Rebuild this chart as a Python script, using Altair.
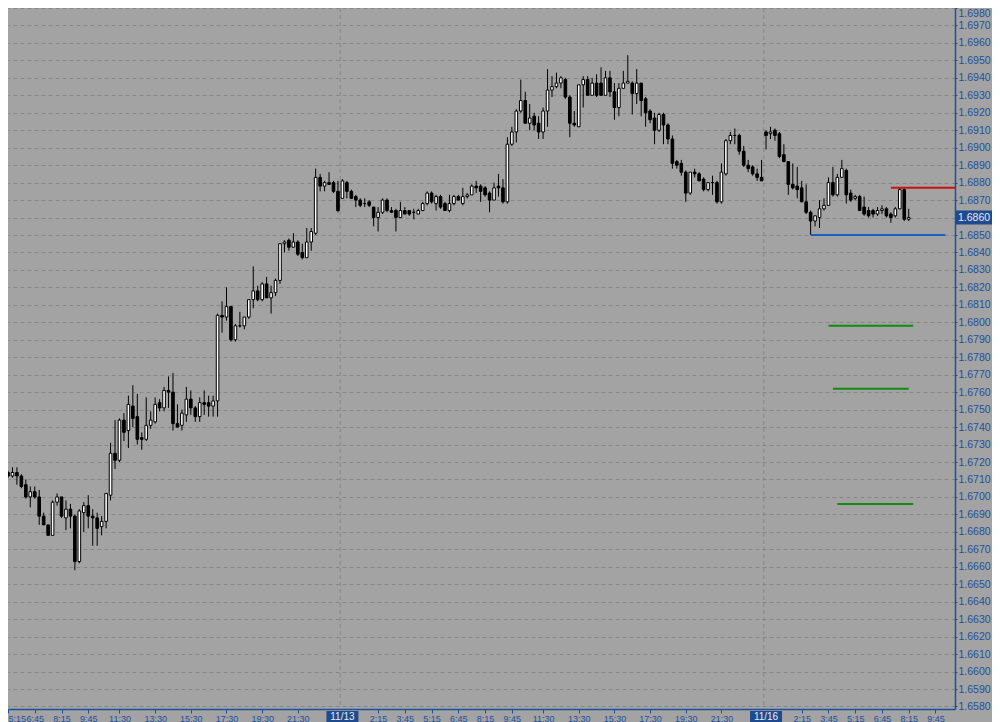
import altair as alt
import pandas as pd

# ---------------- data (15-minute candles) ----------------
OPEN = [
    1.6716, 1.6714, 1.6712, 1.6714, 1.6712, 1.6707, 1.6700, 1.6703, 1.6700, 1.6689,
    1.6684, 1.6678, 1.6697, 1.6700, 1.6688, 1.6693, 1.6689, 1.6663, 1.6691, 1.6695,
    1.6689, 1.6688, 1.6683, 1.6686, 1.6701, 1.6725, 1.6721, 1.6744, 1.6738, 1.6752,
    1.6746, 1.6734, 1.6733, 1.6741, 1.6743, 1.6754, 1.6751, 1.6761, 1.6760, 1.6742,
    1.6741, 1.6747, 1.6756, 1.6751, 1.6746, 1.6754, 1.6754, 1.6752, 1.6755, 1.6804,
    1.6803, 1.6809, 1.6790, 1.6798, 1.6798, 1.6803, 1.6813, 1.6818, 1.6813, 1.6822,
    1.6814, 1.6817, 1.6824, 1.6845, 1.6847, 1.6843, 1.6846, 1.6840, 1.6837, 1.6846,
    1.6851, 1.6883, 1.6878, 1.6880, 1.6880, 1.6875, 1.6871, 1.6880, 1.6875, 1.6872,
    1.6870, 1.6868, 1.6869, 1.6866, 1.6860, 1.6863, 1.6870, 1.6864, 1.6864, 1.6860,
    1.6864, 1.6864, 1.6863, 1.6862, 1.6864, 1.6868, 1.6874, 1.6868, 1.6872, 1.6868,
    1.6864, 1.6868, 1.6872, 1.6868, 1.6872, 1.6873, 1.6878, 1.6878, 1.6877, 1.6874,
    1.6870, 1.6878, 1.6877, 1.6869, 1.6902, 1.6909, 1.6921, 1.6927, 1.6914, 1.6918,
    1.6914, 1.6909, 1.6921, 1.6933, 1.6935, 1.6937, 1.6939, 1.6929, 1.6914, 1.6912,
    1.6936, 1.6939, 1.6930, 1.6937, 1.6937, 1.6930, 1.6940, 1.6932, 1.6923, 1.6934,
    1.6937, 1.6937, 1.6931, 1.6937, 1.6928, 1.6921, 1.6917, 1.6910, 1.6919, 1.6913,
    1.6905, 1.6892, 1.6891, 1.6886, 1.6874, 1.6886, 1.6885, 1.6882, 1.6876, 1.6880,
    1.6880, 1.6869, 1.6885, 1.6904, 1.6907, 1.6907, 1.6898, 1.6890, 1.6889, 1.6885,
    1.6883, 1.6909, 1.6908, 1.6910, 1.6908, 1.6896, 1.6892, 1.6879, 1.6878, 1.6877,
    1.6869, 1.6863, 1.6858, 1.6860, 1.6865, 1.6867, 1.6880, 1.6873, 1.6883, 1.6887,
    1.6874, 1.6871, 1.6872, 1.6866, 1.6864, 1.6864, 1.6862, 1.6864, 1.6865, 1.6862,
    1.6861, 1.6865, 1.6876, 1.6859,
]
HIGH = [
    1.6718, 1.6715, 1.6717, 1.6717, 1.6713, 1.6710, 1.6706, 1.6706, 1.6704, 1.6691,
    1.6684, 1.6698, 1.6702, 1.6700, 1.6698, 1.6696, 1.6690, 1.6693, 1.6697, 1.6701,
    1.6693, 1.6691, 1.6689, 1.6702, 1.6731, 1.6744, 1.6745, 1.6748, 1.6758, 1.6764,
    1.6759, 1.6737, 1.6757, 1.6749, 1.6757, 1.6756, 1.6763, 1.6769, 1.6771, 1.6753,
    1.6750, 1.6763, 1.6761, 1.6752, 1.6757, 1.6761, 1.6758, 1.6758, 1.6805, 1.6812,
    1.6820, 1.6809, 1.6799, 1.6806, 1.6803, 1.6813, 1.6832, 1.6821, 1.6823, 1.6826,
    1.6821, 1.6825, 1.6845, 1.6847, 1.6848, 1.6851, 1.6847, 1.6845, 1.6854, 1.6854,
    1.6888, 1.6885, 1.6881, 1.6886, 1.6881, 1.6881, 1.6882, 1.6881, 1.6876, 1.6873,
    1.6871, 1.6871, 1.6870, 1.6866, 1.6866, 1.6871, 1.6871, 1.6866, 1.6865, 1.6869,
    1.6866, 1.6864, 1.6865, 1.6865, 1.6869, 1.6875, 1.6875, 1.6873, 1.6873, 1.6869,
    1.6873, 1.6873, 1.6873, 1.6877, 1.6874, 1.6879, 1.6881, 1.6879, 1.6878, 1.6875,
    1.6880, 1.6885, 1.6882, 1.6906, 1.6912, 1.6922, 1.6939, 1.6932, 1.6925, 1.6920,
    1.6918, 1.6923, 1.6945, 1.6941, 1.6943, 1.6941, 1.6940, 1.6930, 1.6921, 1.6936,
    1.6941, 1.6941, 1.6940, 1.6942, 1.6946, 1.6944, 1.6944, 1.6937, 1.6937, 1.6944,
    1.6953, 1.6938, 1.6945, 1.6937, 1.6929, 1.6922, 1.6920, 1.6920, 1.6920, 1.6914,
    1.6907, 1.6893, 1.6893, 1.6887, 1.6886, 1.6888, 1.6886, 1.6883, 1.6880, 1.6884,
    1.6881, 1.6891, 1.6905, 1.6909, 1.6911, 1.6908, 1.6901, 1.6893, 1.6890, 1.6888,
    1.6893, 1.6910, 1.6912, 1.6911, 1.6909, 1.6902, 1.6892, 1.6891, 1.6889, 1.6881,
    1.6879, 1.6864, 1.6861, 1.6870, 1.6871, 1.6883, 1.6889, 1.6885, 1.6893, 1.6888,
    1.6876, 1.6873, 1.6873, 1.6872, 1.6866, 1.6865, 1.6866, 1.6867, 1.6866, 1.6863,
    1.6866, 1.6877, 1.6877, 1.6865,
]
LOW = [
    1.6711, 1.6711, 1.6711, 1.6707, 1.6705, 1.6699, 1.6694, 1.6699, 1.6684, 1.6684,
    1.6678, 1.6678, 1.6695, 1.6688, 1.6681, 1.6682, 1.6658, 1.6662, 1.6680, 1.6682,
    1.6672, 1.6672, 1.6678, 1.6682, 1.6698, 1.6716, 1.6720, 1.6732, 1.6728, 1.6740,
    1.6730, 1.6727, 1.6732, 1.6739, 1.6742, 1.6749, 1.6749, 1.6751, 1.6738, 1.6740,
    1.6738, 1.6743, 1.6747, 1.6743, 1.6743, 1.6747, 1.6746, 1.6746, 1.6746, 1.6794,
    1.6801, 1.6789, 1.6789, 1.6797, 1.6796, 1.6802, 1.6808, 1.6812, 1.6812, 1.6814,
    1.6805, 1.6815, 1.6822, 1.6840, 1.6841, 1.6843, 1.6838, 1.6836, 1.6837, 1.6841,
    1.6850, 1.6875, 1.6875, 1.6879, 1.6874, 1.6863, 1.6871, 1.6871, 1.6871, 1.6866,
    1.6866, 1.6866, 1.6866, 1.6855, 1.6852, 1.6862, 1.6863, 1.6863, 1.6852, 1.6860,
    1.6862, 1.6861, 1.6859, 1.6862, 1.6864, 1.6867, 1.6868, 1.6864, 1.6865, 1.6864,
    1.6863, 1.6867, 1.6870, 1.6867, 1.6871, 1.6873, 1.6874, 1.6869, 1.6872, 1.6863,
    1.6870, 1.6872, 1.6868, 1.6868, 1.6901, 1.6903, 1.6920, 1.6914, 1.6910, 1.6910,
    1.6905, 1.6905, 1.6912, 1.6929, 1.6934, 1.6934, 1.6928, 1.6906, 1.6912, 1.6912,
    1.6923, 1.6930, 1.6930, 1.6929, 1.6930, 1.6930, 1.6929, 1.6916, 1.6918, 1.6934,
    1.6937, 1.6919, 1.6925, 1.6918, 1.6912, 1.6914, 1.6902, 1.6909, 1.6902, 1.6902,
    1.6888, 1.6888, 1.6884, 1.6869, 1.6873, 1.6883, 1.6881, 1.6875, 1.6875, 1.6873,
    1.6868, 1.6868, 1.6884, 1.6902, 1.6902, 1.6896, 1.6889, 1.6886, 1.6884, 1.6881,
    1.6881, 1.6899, 1.6905, 1.6904, 1.6894, 1.6892, 1.6873, 1.6876, 1.6871, 1.6869,
    1.6862, 1.6850, 1.6855, 1.6854, 1.6864, 1.6867, 1.6872, 1.6872, 1.6883, 1.6868,
    1.6869, 1.6870, 1.6864, 1.6861, 1.6860, 1.6860, 1.6861, 1.6862, 1.6860, 1.6857,
    1.6860, 1.6865, 1.6858, 1.6858,
]
CLOSE = [
    1.6715, 1.6712, 1.6714, 1.6712, 1.6706, 1.6700, 1.6703, 1.6700, 1.6689, 1.6684,
    1.6678, 1.6697, 1.6700, 1.6689, 1.6693, 1.6689, 1.6663, 1.6692, 1.6695, 1.6689,
    1.6688, 1.6682, 1.6686, 1.6702, 1.6725, 1.6721, 1.6744, 1.6737, 1.6753, 1.6745,
    1.6733, 1.6733, 1.6741, 1.6744, 1.6753, 1.6751, 1.6761, 1.6760, 1.6742, 1.6740,
    1.6748, 1.6756, 1.6751, 1.6746, 1.6754, 1.6753, 1.6752, 1.6755, 1.6804, 1.6803,
    1.6809, 1.6790, 1.6798, 1.6798, 1.6803, 1.6813, 1.6818, 1.6813, 1.6822, 1.6814,
    1.6817, 1.6824, 1.6845, 1.6846, 1.6843, 1.6846, 1.6839, 1.6837, 1.6846, 1.6852,
    1.6883, 1.6878, 1.6880, 1.6879, 1.6875, 1.6864, 1.6881, 1.6875, 1.6871, 1.6870,
    1.6867, 1.6868, 1.6867, 1.6860, 1.6863, 1.6870, 1.6864, 1.6863, 1.6860, 1.6864,
    1.6862, 1.6862, 1.6863, 1.6864, 1.6868, 1.6874, 1.6869, 1.6872, 1.6866, 1.6864,
    1.6868, 1.6872, 1.6870, 1.6872, 1.6873, 1.6878, 1.6877, 1.6875, 1.6873, 1.6870,
    1.6877, 1.6877, 1.6869, 1.6902, 1.6909, 1.6921, 1.6927, 1.6914, 1.6917, 1.6913,
    1.6909, 1.6921, 1.6933, 1.6935, 1.6937, 1.6940, 1.6929, 1.6914, 1.6913, 1.6936,
    1.6939, 1.6930, 1.6937, 1.6930, 1.6930, 1.6940, 1.6932, 1.6923, 1.6934, 1.6937,
    1.6938, 1.6931, 1.6937, 1.6927, 1.6920, 1.6916, 1.6910, 1.6919, 1.6913, 1.6905,
    1.6891, 1.6890, 1.6886, 1.6874, 1.6886, 1.6885, 1.6881, 1.6876, 1.6880, 1.6880,
    1.6869, 1.6886, 1.6904, 1.6907, 1.6907, 1.6898, 1.6890, 1.6888, 1.6885, 1.6883,
    1.6881, 1.6907, 1.6909, 1.6907, 1.6895, 1.6892, 1.6879, 1.6877, 1.6876, 1.6869,
    1.6863, 1.6858, 1.6861, 1.6865, 1.6867, 1.6880, 1.6873, 1.6883, 1.6888, 1.6873,
    1.6870, 1.6872, 1.6864, 1.6862, 1.6861, 1.6862, 1.6864, 1.6865, 1.6861, 1.6860,
    1.6865, 1.6876, 1.6859, 1.6860,
]

# time axis (bar index -> clock label)
TICK_POS = [1, 7, 13, 19, 26, 34, 42, 50, 58, 66,
            84, 90, 96, 102, 108, 114, 121, 129, 137, 145, 153, 161,
            179, 185, 191, 197, 203, 209]
TICK_LABELS = ["5:15", "6:45", "8:15", "9:45", "11:30", "13:30", "15:30", "17:30", "19:30", "21:30",
               "2:15", "3:45", "5:15", "6:45", "8:15", "9:45", "11:30", "13:30", "15:30", "17:30", "19:30", "21:30",
               "2:15", "3:45", "5:15", "6:45", "8:15", "9:45"]
DAY_POS = [76, 171]
DAY_LABELS = ["11/13", "11/16"]
DAY_BREAKS = [75.5, 170.5]

PRICE_TICKS = [1.6580, 1.6590, 1.6600, 1.6610, 1.6620, 1.6630, 1.6640, 1.6650, 1.6660, 1.6670,
               1.6680, 1.6690, 1.6700, 1.6710, 1.6720, 1.6730, 1.6740, 1.6750, 1.6760, 1.6770,
               1.6780, 1.6790, 1.6800, 1.6810, 1.6820, 1.6830, 1.6840, 1.6850, 1.6860, 1.6870,
               1.6880, 1.6890, 1.6900, 1.6910, 1.6920, 1.6930, 1.6940, 1.6950, 1.6960, 1.6970, 1.6980]
LAST_PRICE = 1.6860

# horizontal levels drawn on the right
LEVEL_KIND = ["resistance", "support", "target", "target", "target"]
LEVEL_PRICE = [1.6877, 1.6850, 1.6798, 1.6762, 1.6696]
LEVEL_FROM = [199, 181, 185, 186, 187]
LEVEL_TO = [213.5, 211.2, 204, 203, 204]

# ---------------- styling ----------------
BG = "#a3a3a3"
GRID = "#878787"
BLUE = "#1d4f9e"
BOX = "#1f4b8e"
BOX_TEXT = "#e6ecf5"
FONT = "Liberation Sans"
W, H = 947, 701

xs = alt.Scale(domain=[1.0, 213.38], nice=False, zero=False, padding=0)
ys = alt.Scale(domain=[1.657856, 1.698], nice=False, zero=False, padding=0)

pos_js = "[" + ",".join(str(p) for p in TICK_POS) + "]"
lab_js = "[" + ",".join("'" + t + "'" for t in TICK_LABELS) + "]"
x_axis = alt.Axis(
    values=TICK_POS, labelExpr=f"{lab_js}[indexof({pos_js}, datum.value)]",
    orient="bottom", grid=False, title=None, domainColor=BLUE, domainWidth=1.5,
    tickColor=BLUE, tickSize=4, tickWidth=1, labelColor=BLUE, labelFont=FONT,
    labelFontSize=9, labelPadding=1, labelOverlap=False, labelFlush=5,
)
y_axis = alt.Axis(
    values=PRICE_TICKS,
    labelExpr=f"abs(datum.value - {LAST_PRICE}) < 0.00001 ? '' : format(datum.value, '.4f')",
    labelBaseline={"condition": {"test": "datum.value > 1.6975", "value": "top"}, "value": "middle"},
    orient="right", grid=True, gridColor=GRID, gridDash=[4, 3], gridWidth=1,
    title=None, domainColor=BLUE, domainWidth=1.5, tickColor=BLUE, tickSize=2,
    labelColor=BLUE, labelFont=FONT, labelFontSize=10.5, labelPadding=1,
    labelOverlap=False, labelFlush=False,
)

candles = pd.DataFrame({"j": list(range(len(OPEN))), "o": OPEN, "h": HIGH, "l": LOW, "c": CLOSE})
candles["bot"] = candles[["o", "c"]].min(axis=1)
candles["top"] = candles[["o", "c"]].max(axis=1)
candles["dir"] = ["up" if c >= o else "down" for o, c in zip(OPEN, CLOSE)]

days = pd.DataFrame({"brk": DAY_BREAKS, "pos": DAY_POS, "label": DAY_LABELS})
levels = pd.DataFrame({"kind": LEVEL_KIND, "p": LEVEL_PRICE, "a": LEVEL_FROM, "b": LEVEL_TO})
last = pd.DataFrame({"p": [LAST_PRICE], "label": [f"{LAST_PRICE:.4f}"]})

X = lambda f: alt.X(f, scale=xs, axis=x_axis)
Y = lambda f: alt.Y(f, scale=ys, axis=y_axis)

wicks = alt.Chart(candles).mark_rule(color="black", strokeWidth=1, clip=True).encode(
    x=X("j:Q"), y=Y("l:Q"), y2="h:Q",
)

bodies = alt.Chart(candles).mark_bar(size=2.6, stroke="black", strokeWidth=1, clip=True).encode(
    x=X("j:Q"), y=Y("bot:Q"), y2="top:Q",
    fill=alt.Fill("dir:N", scale=alt.Scale(domain=["up", "down"], range=["white", "black"]), legend=None),
)

day_lines = alt.Chart(days).mark_rule(color=GRID, strokeDash=[4, 3], strokeWidth=1).encode(
    x=X("brk:Q"),
)

level_lines = alt.Chart(levels).mark_rule(strokeWidth=2, clip=True).encode(
    x=X("a:Q"), x2="b:Q", y=Y("p:Q"),
    color=alt.Color("kind:N", scale=alt.Scale(domain=["resistance", "support", "target"],
                                               range=["#cc1010", "#1f5cc4", "#138a13"]), legend=None),
)

day_boxes = alt.Chart(days).mark_rect(color=BOX, xOffset=-16, x2Offset=16).encode(
    x=X("pos:Q"), x2="pos:Q",
    y=alt.value(H + 2), y2=alt.value(H + 14),
)
day_text = alt.Chart(days).mark_text(color=BOX_TEXT, font=FONT, fontSize=10, align="center", baseline="middle").encode(
    x=X("pos:Q"), y=alt.value(H + 8), text="label:N",
)

price_box = alt.Chart(last).mark_rect(color=BOX, yOffset=-7, y2Offset=7).encode(
    y=Y("p:Q"), y2="p:Q",
    x=alt.value(W + 1), x2=alt.value(W + 37),
)
price_text = alt.Chart(last).mark_text(color=BOX_TEXT, font=FONT, fontSize=10.5, align="left", baseline="middle").encode(
    y=Y("p:Q"), x=alt.value(W + 3), text="label:N",
)

chart = alt.layer(
    wicks, day_lines, bodies, level_lines, day_boxes, day_text, price_box, price_text
).properties(
    width=W, height=H,
    autosize=alt.AutoSizeParams(type="none"),
    padding={"left": 0, "top": 0, "right": 37, "bottom": 13},
    background=BG,
).configure_view(fill=BG, stroke=None)

chart.save("out.html", embed_options={"renderer": "svg", "actions": False})
